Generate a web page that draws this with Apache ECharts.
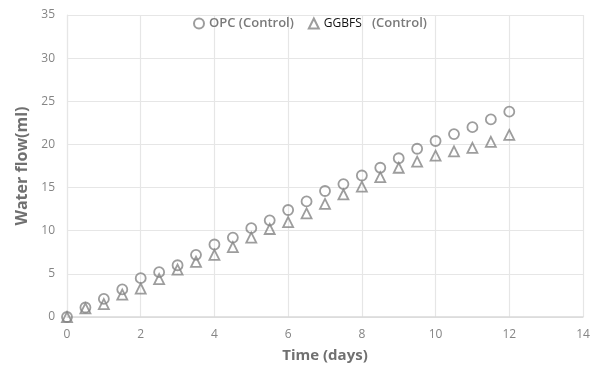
<!DOCTYPE html>
<html>
<head>
<meta charset="utf-8">
<script src="https://cdn.jsdelivr.net/npm/echarts@6/dist/echarts.min.js"></script>
<style>html,body{margin:0;padding:0;background:#fff}#c{width:600px;height:379px}</style>
</head>
<body>
<div id="c"></div>
<script>
const days = [0,0.5,1,1.5,2,2.5,3,3.5,4,4.5,5,5.5,6,6.5,7,7.5,8,8.5,9,9.5,10,10.5,11,11.5,12];
const opcControl = [0,1.1,2.1,3.2,4.5,5.2,6.0,7.2,8.4,9.2,10.3,11.2,12.4,13.4,14.6,15.4,16.4,17.3,18.4,19.5,20.4,21.2,22.0,22.9,23.8];
const ggbfsControl = [0,1.0,1.5,2.6,3.3,4.4,5.5,6.4,7.2,8.1,9.2,10.2,11.0,12.0,13.1,14.2,15.1,16.2,17.3,18.0,18.7,19.2,19.6,20.3,21.1];
const xTicks = [0,2,4,6,8,10,12,14];
const yTicks = [0,5,10,15,20,25,30,35];

const font = '"Open Sans", "Liberation Sans", sans-serif';
const markColor = '#858585';
const chart = echarts.init(document.getElementById('c'), null, {renderer:'canvas'});
chart.setOption({
  animation:false,
  backgroundColor:'#fff',
  textStyle:{fontFamily:font},
  grid:{left:67,right:17,top:15,bottom:62,containLabel:false},
  legend:{
    left:188, top:12, itemWidth:10, itemHeight:10, itemGap:14, itemTextGap:4,
    textStyle:{fontFamily:font,fontSize:13,fontWeight:600,color:'#7a7a7a',
      rich:{b:{color:'#111',fontSize:12,fontWeight:'normal',fontFamily:font},g:{color:'#7a7a7a',fontSize:13,fontWeight:600,fontFamily:font}}},
    formatter:function(n){ if(n==='GGBFS'){return '{b|GGBFS}   {g|(Control)}';} return n; },
    data:['OPC (Control)','GGBFS']
  },
  xAxis:{
    type:'value', min:0, max:14, interval:2,
    name:'Time (days)', nameLocation:'middle', nameGap:31,
    nameTextStyle:{fontFamily:font,fontSize:15,fontWeight:'bold',color:'#707070'},
    axisLine:{show:true,lineStyle:{color:'#d9d9d9',width:1.5}},
    axisTick:{show:false},
    axisLabel:{color:'#858585',fontSize:12,margin:12,fontFamily:font},
    splitLine:{show:true,lineStyle:{color:'#e6e6e6',width:1.2}}
  },
  yAxis:{
    type:'value', min:0, max:35, interval:5,
    name:'Water flow(ml)', nameLocation:'middle', nameGap:34,
    nameTextStyle:{fontFamily:font,fontSize:16,fontWeight:'bold',color:'#707070'},
    axisLine:{show:true,lineStyle:{color:'#e6e6e6',width:1.2}},
    axisTick:{show:false},
    axisLabel:{color:'#858585',fontSize:12,margin:12,fontFamily:font},
    splitLine:{show:true,lineStyle:{color:'#e6e6e6',width:1.2}}
  },
  series:[
    {name:'OPC (Control)', type:'scatter', symbol:'circle', symbolSize:10,
     itemStyle:{color:'rgba(255,255,255,0)',borderColor:markColor,borderWidth:1.8},
     data:days.map((d,i)=>[d,opcControl[i]]), z:3},
    {name:'GGBFS', type:'scatter', symbol:'triangle', symbolSize:10,
     itemStyle:{color:'rgba(255,255,255,0)',borderColor:markColor,borderWidth:1.8},
     data:days.map((d,i)=>[d,ggbfsControl[i]]), z:2}
  ]
});
</script>
</body>
</html>
